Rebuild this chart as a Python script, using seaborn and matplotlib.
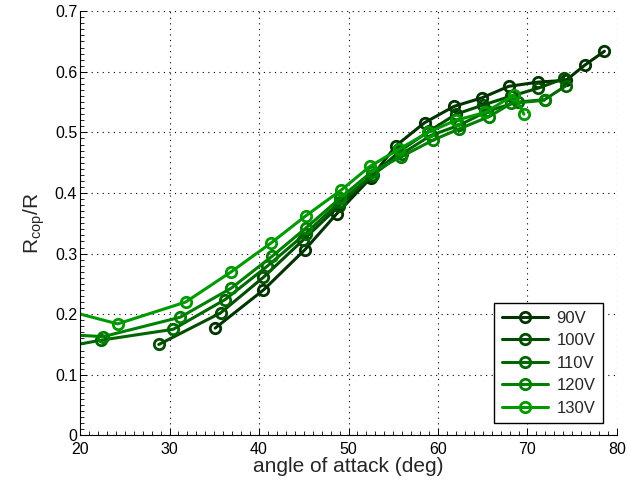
import numpy as np
import pandas as pd
import seaborn as sns
import matplotlib.pyplot as plt
from matplotlib.ticker import MultipleLocator

# angle of attack (deg) and R_cop/R for each voltage
aoa_90 = [35.1, 40.5, 45.1, 48.7, 52.5, 55.3, 58.5, 61.8, 64.9, 67.9, 71.2, 74.3, 76.4, 78.6]
rcop_90 = [0.177, 0.240, 0.306, 0.366, 0.425, 0.478, 0.516, 0.543, 0.557, 0.576, 0.583, 0.586, 0.611, 0.634]

aoa_100 = [28.8, 35.7, 40.5, 44.9, 48.9, 52.6, 55.8, 59.0, 62.0, 65.0, 68.2, 71.2, 74.1]
rcop_100 = [0.150, 0.202, 0.261, 0.322, 0.378, 0.428, 0.470, 0.502, 0.530, 0.545, 0.560, 0.573, 0.589]

aoa_110 = [17.5, 22.3, 30.4, 36.2, 40.9, 45.2, 49.0, 52.7, 56.0, 59.2, 62.4, 65.5, 68.9, 71.9, 74.3]
rcop_110 = [0.144, 0.157, 0.175, 0.224, 0.279, 0.333, 0.385, 0.430, 0.465, 0.495, 0.512, 0.535, 0.550, 0.554, 0.577]

aoa_120 = [17.5, 22.6, 31.2, 36.9, 41.5, 45.3, 49.1, 52.6, 55.9, 59.4, 62.4, 65.7, 68.2, 71.9]
rcop_120 = [0.167, 0.163, 0.195, 0.243, 0.296, 0.343, 0.392, 0.435, 0.460, 0.487, 0.506, 0.526, 0.548, 0.553]

aoa_130 = [17.5, 24.2, 31.8, 36.9, 41.3, 45.2, 49.2, 52.4, 55.6, 58.9, 62.0, 65.3, 68.5, 69.6]
rcop_130 = [0.210, 0.184, 0.220, 0.270, 0.317, 0.362, 0.405, 0.444, 0.472, 0.500, 0.520, 0.533, 0.562, 0.530]

labels = ["90V", "100V", "110V", "120V", "130V"]
colors = ["#003300", "#004d00", "#006600", "#008000", "#009a00"]

x_ticks = [20, 30, 40, 50, 60, 70, 80]
y_ticks = [0, 0.1, 0.2, 0.3, 0.4, 0.5, 0.6, 0.7]
y_tick_labels = ["0", "0.1", "0.2", "0.3", "0.4", "0.5", "0.6", "0.7"]

series = [(aoa_90, rcop_90), (aoa_100, rcop_100), (aoa_110, rcop_110),
          (aoa_120, rcop_120), (aoa_130, rcop_130)]

sns.set_style("white")
plt.rcParams['font.family'] = ['Liberation Sans', 'DejaVu Sans']
plt.rcParams['mathtext.fontset'] = 'custom'
plt.rcParams['mathtext.rm'] = 'Liberation Sans'
plt.rcParams['mathtext.it'] = 'Liberation Sans:italic'
plt.rcParams['xtick.minor.size'] = 3
plt.rcParams['ytick.minor.size'] = 3
plt.rcParams['xtick.minor.width'] = 0.6
plt.rcParams['ytick.minor.width'] = 0.6

fig = plt.figure(figsize=(6.37, 4.87), dpi=100)
ax = fig.add_axes([0.1256, 0.106, 0.843, 0.871])

for (x, y), lab, col in zip(series, labels, colors):
    df = pd.DataFrame({"aoa": x, "rcop": y})
    sns.lineplot(data=df, x="aoa", y="rcop", ax=ax, sort=False, color=col,
                 linewidth=2.2, marker="o", markersize=7.5, markerfacecolor="none",
                 markeredgecolor=col, markeredgewidth=2, label=lab, clip_on=True)

ax.set_xlim(20, 80)
ax.set_ylim(0, 0.7)
ax.set_xticks(x_ticks)
ax.set_xticklabels([str(t) for t in x_ticks])
ax.set_yticks(y_ticks)
ax.set_yticklabels(y_tick_labels)
ax.minorticks_on()
ax.xaxis.set_minor_locator(MultipleLocator(1))
ax.yaxis.set_minor_locator(MultipleLocator(0.01))
ax.tick_params(which="both", direction="in", colors="black", labelsize=11.5,
               top=False, right=False, left=True, bottom=True)
ax.tick_params(which="major", length=5, width=0.7)
ax.tick_params(which="minor", length=3, width=0.6)
ax.tick_params(axis="x", which="major", pad=5)
ax.tick_params(axis="y", which="major", pad=2)

ax.grid(True, which="major", linestyle=(0, (1, 4)), color="black", linewidth=0.8)
ax.grid(False, which="minor")
for side in ["top", "right"]:
    ax.spines[side].set_visible(False)
for side in ["left", "bottom"]:
    ax.spines[side].set_color("black")
    ax.spines[side].set_linewidth(0.8)

ax.set_xlabel("angle of attack (deg)", fontsize=15, labelpad=0)
ax.set_ylabel(r"R$_{\mathrm{cop}}$/R", fontsize=15, labelpad=6)

leg = ax.legend(loc="lower right", bbox_to_anchor=(0.974, 0.029), borderaxespad=0,
                fontsize=12, frameon=True, fancybox=False, handlelength=2.8,
                labelspacing=0.45, borderpad=0.45, handletextpad=0.5)
leg.get_frame().set_edgecolor("black")
leg.get_frame().set_linewidth(1.0)
leg.get_frame().set_alpha(1)

fig.savefig("out.png", dpi=100)
